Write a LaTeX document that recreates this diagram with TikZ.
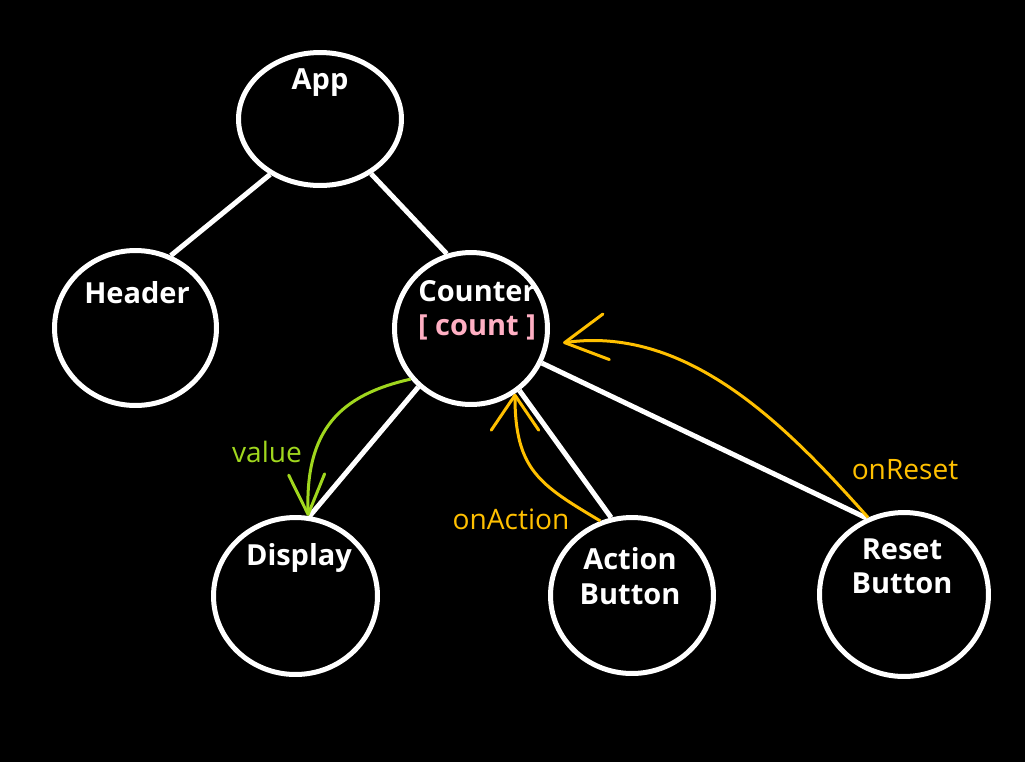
\documentclass[tikz,border=0pt]{standalone}
\usepackage{fontspec}
\setmainfont{Open Sans}
\usetikzlibrary{scopes,shapes.geometric,arrows.meta}
\definecolor{gold}{RGB}{255,192,0}
\definecolor{lime}{RGB}{160,215,30}
\definecolor{rose}{RGB}{255,175,195}

\begin{document}
\begin{tikzpicture}[x=0.02cm,y=-0.02cm,
    comp/.style={ellipse,draw=white,line width=0.1cm,inner sep=0pt},
    title/.style={text=white,font=\bfseries\fontsize{16.5}{19.5}\selectfont,align=center},
    wire/.style={draw=white,line width=0.1cm},
    prop/.style={draw=lime,line width=0.06cm,-{Straight Barb[length=0.8cm,width=0.72cm,round]}},
    cb/.style={draw=gold,line width=0.06cm},
    note/.style={font=\fontsize{16}{19}\selectfont},
]

    % background
    \fill[black] (0,0) rectangle (1025,762);
    \useasboundingbox (0,0) rectangle (1025,762);

    %%%
    % Components
    \node[comp,minimum width=3.26cm,minimum height=2.66cm] (app) at (320,119) {};
    \node[comp,minimum width=3.24cm,minimum height=3.10cm] (header) at (135.5,328) {};
    \node[comp,minimum width=3.06cm,minimum height=3.04cm] (counter) at (471,328.5) {};
    \node[comp,minimum width=3.28cm,minimum height=3.14cm] (display) at (295.5,596) {};
    \node[comp,minimum width=3.26cm,minimum height=3.12cm] (action) at (632,595.5) {};
    \node[comp,minimum width=3.38cm,minimum height=3.28cm] (reset) at (904,594.5) {};

    \node[title] (apptxt) at (320,83) {App};
    \node[title] (headertxt) at (137,293) {Header};
    \node[title] (countertxt) at (477,310) {Counter\\{\color{rose}[ count ]}};
    \node[title] (displaytxt) at (299,558) {Display};
    \node[title] (actiontxt) at (630,576) {Action\\Button};
    \node[title] (resettxt) at (902,566) {Reset\\Button};

    %%%
    % Tree
    {[wire]
        \draw (app.228) -- (header.64);
        \draw (app.313) -- (counter.108);
        \draw (counter.228) -- (display.80);
        \draw (counter.308) -- (action.105);
        \draw (counter.334) -- (reset.116);
    }

    %%%
    % Props and callbacks
    \draw[prop] (counter.220) .. controls (340,395) and (305,430) .. (display.81);
    \node[note,text=lime] (value) at (267,452) {value};

    {[cb,-{Straight Barb[length=0.7cm,width=0.95cm,round]}]
        \draw (action.113) .. controls (540,485) and (515,470) .. (counter.304);
    }
    \node[note,text=gold] (onaction) at (511,519) {onAction};

    {[cb,-{Straight Barb[length=0.84cm,width=0.92cm,round]},shorten >=0.3cm]
        \draw (reset.115) .. controls (790,430) and (690,325) .. (counter.348);
    }
    \node[note,text=gold] (onreset) at (905,470) {onReset};

\end{tikzpicture}
\end{document}
